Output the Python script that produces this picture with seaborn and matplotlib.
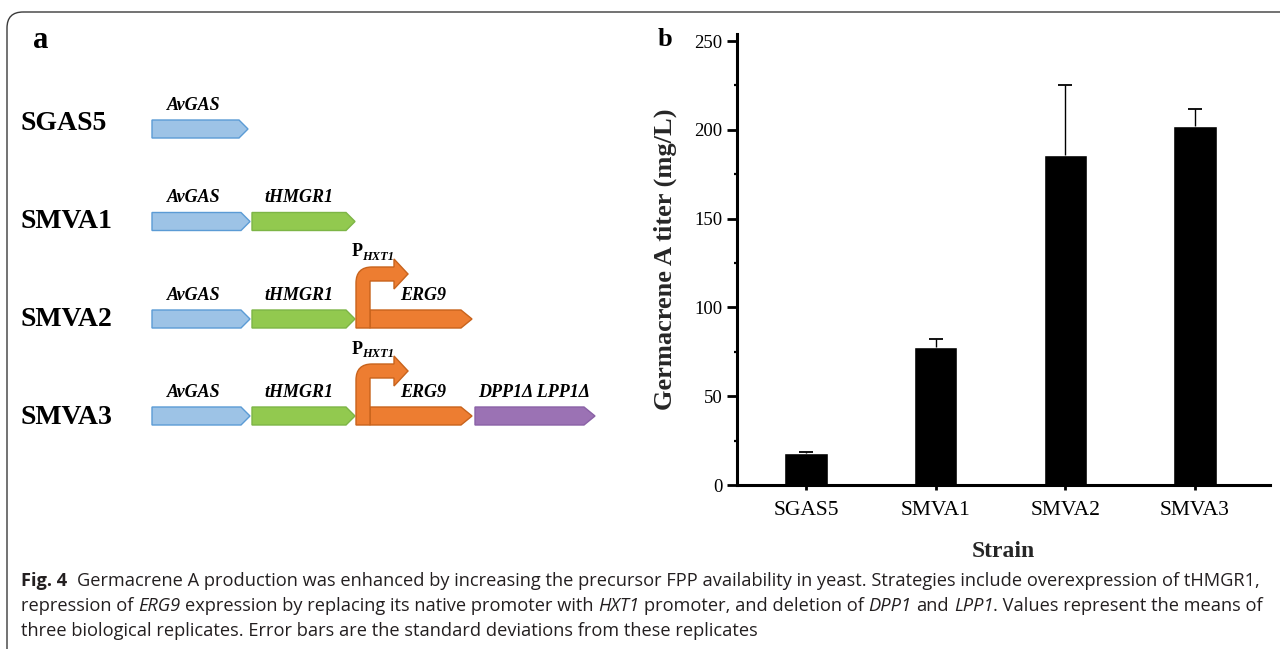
import numpy as np
import pandas as pd
import matplotlib
matplotlib.use("Agg")
import matplotlib.pyplot as plt
import seaborn as sns
from matplotlib.patches import Polygon, FancyBboxPatch, PathPatch
from matplotlib.path import Path
from matplotlib.ticker import MultipleLocator
from matplotlib import font_manager as fm

# ---------------- data ----------------
strains = ["SGAS5", "SMVA1", "SMVA2", "SMVA3"]
titer_mean = [18.0, 78.0, 186.0, 202.0]
titer_sd = [0.5, 4.0, 39.0, 10.0]
y_ticks = [0, 50, 100, 150, 200, 250]
x_label = "Strain"
y_label = "Germacrene A titer (mg/L)"

construct_rows = ["SGAS5", "SMVA1", "SMVA2", "SMVA3"]
construct_genes = [["AvGAS"],
                   ["AvGAS", "tHMGR1"],
                   ["AvGAS", "tHMGR1", "ERG9"],
                   ["AvGAS", "tHMGR1", "ERG9", "DPP1\u0394 LPP1\u0394"]]
promoter_rows = [False, False, True, True]
promoter_main = "P"
promoter_sub = "HXT1"

# caption pieces: (text, kind) kind: b = bold, r = regular, i = italic
caption_line1 = [("Fig. 4", "b"),
                 ("  Germacrene A production was enhanced by increasing the precursor FPP availability in yeast. Strategies include overexpression of tHMGR1,", "r")]
caption_line2 = [("repression of ", "r"), ("ERG9", "i"),
                 (" expression by replacing its native promoter with ", "r"),
                 ("HXT1", "i"), (" promoter, and deletion of ", "r"),
                 ("DPP1", "i"), (" and ", "r"), ("LPP1", "i"),
                 (". Values represent the means of", "r")]
caption_line3 = [("three biological replicates. Error bars are the standard deviations from these replicates", "r")]

# ---------------- style ----------------
sns.set_theme(style="ticks")
plt.rcParams["font.family"] = ["Liberation Serif", "DejaVu Serif"]
plt.rcParams["axes.edgecolor"] = "black"
plt.rcParams["xtick.color"] = "black"
plt.rcParams["ytick.color"] = "black"
plt.rcParams["text.color"] = "black"

names = {f.name for f in fm.fontManager.ttflist}
cap_font = "Liberation Sans Narrow" if "Liberation Sans Narrow" in names else "Open Sans"

W, H = 1280, 649
fig = plt.figure(figsize=(W / 100, H / 100), dpi=100)

# overlay in pixel coordinates for the schematic, frame and caption
ov = fig.add_axes([0, 0, 1, 1], zorder=0)
ov.set_xlim(0, W)
ov.set_ylim(H, 0)
ov.axis("off")

# rounded frame
ov.add_patch(FancyBboxPatch((7, 12), 1500, 900,
                            boxstyle="round,pad=0,rounding_size=16",
                            fc="none", ec="#3a3a3a", lw=1.0, clip_on=False))

# ---------------- panel a ----------------
gene_style = {
    "AvGAS": dict(x=(152, 250), fc="#9DC3E6", ec="#5B9BD5", lx=194),
    "tHMGR1": dict(x=(252, 355), fc="#92C94F", ec="#7DB546", lx=299),
    "ERG9": dict(x=(370, 472), fc="#ED7D31", ec="#C8631C", lx=423),
    "DPP1\u0394 LPP1\u0394": dict(x=(475, 595), fc="#9B72B4", ec="#8A62A6", lx=534),
}
row_y = [129, 221.5, 319, 416]
row_label_y = [124, 222, 320, 418]
gene_h = 18


def gene_arrow(x0, x1, yc, fc, ec, tip=10):
    pts = [(x0, yc - gene_h / 2), (x1 - tip, yc - gene_h / 2), (x1, yc),
           (x1 - tip, yc + gene_h / 2), (x0, yc + gene_h / 2)]
    ov.add_patch(Polygon(pts, closed=True, fc=fc, ec=ec, lw=1.0, zorder=2))


def promoter_arrow(xs, yb, ya):
    sw = 14
    at, ab = ya - 7, ya + 7
    R = 16
    hx, ht, hh = xs + 38, xs + 52, 15
    verts = [(xs, yb), (xs, at + R), (xs, at), (xs + R, at), (hx, at),
             (hx, ya - hh), (ht, ya), (hx, ya + hh), (hx, ab), (xs + sw, ab),
             (xs + sw, yb), (xs, yb)]
    codes = [Path.MOVETO, Path.LINETO, Path.CURVE3, Path.CURVE3, Path.LINETO,
             Path.LINETO, Path.LINETO, Path.LINETO, Path.LINETO, Path.LINETO,
             Path.LINETO, Path.CLOSEPOLY]
    ov.add_patch(PathPatch(Path(verts, codes), fc="#ED7D31", ec="#C8631C",
                           lw=1.0, zorder=3))


ov.text(41, 40, "a", fontsize=22, fontweight="bold", ha="center", va="center")

for name, genes, prom, yc, ly in zip(construct_rows, construct_genes,
                                     promoter_rows, row_y, row_label_y):
    ov.text(21, ly, name, fontsize=20, fontweight="bold", ha="left", va="center")
    for g in genes:
        st = gene_style[g]
        x0, x1 = st["x"]
        if len(genes) == 1:
            x1 = 248
        gene_arrow(x0, x1, yc, st["fc"], st["ec"], tip=9 if x1 < 360 else 11)
        ov.text(st["lx"], yc - 23.5, g, fontsize=13, fontweight="bold",
                fontstyle="italic", ha="center", va="center")
    if prom:
        yb = yc + 9
        promoter_arrow(356, yb, yb - 54)
        ov.text(352, yb - 76, promoter_main, fontsize=13, fontweight="bold",
                ha="left", va="center")
        ov.text(362, yb - 71, promoter_sub, fontsize=9, fontweight="bold",
                fontstyle="italic", ha="left", va="center")

# ---------------- panel b ----------------
ax = fig.add_axes([737 / W, 164 / H, 533 / W, 451 / H], zorder=1)
ax.set_facecolor("none")
df = pd.DataFrame({"Strain": strains, "titer": titer_mean})
sns.barplot(data=df, x="Strain", y="titer", color="black", saturation=1,
            width=0.335, errorbar=None, ax=ax)
eb = ax.errorbar(np.arange(len(strains)), titer_mean,
                 yerr=[np.zeros(len(titer_sd)), titer_sd], fmt="none",
                 ecolor="black", elinewidth=1.0, capsize=5, capthick=1.3,
                 zorder=3)
eb[1][0].set_visible(False)   # hide the cap sitting on the bar top

ax.set_xlim(-0.532, 3.578)
ax.set_ylim(0, 254)
ax.set_yticks(y_ticks)
ax.yaxis.set_minor_locator(MultipleLocator(25))
for s in ["top", "right"]:
    ax.spines[s].set_visible(False)
for s in ["left", "bottom"]:
    ax.spines[s].set_linewidth(2.2)
ax.tick_params(axis="y", which="major", direction="out", length=7,
               width=2, labelsize=13.5, pad=3.5)
ax.tick_params(axis="x", which="major", direction="out", length=3.5,
               width=2, labelsize=15.5, pad=8)
ax.tick_params(axis="y", which="minor", direction="out", length=2.5, width=1.6)
ax.set_xlabel(x_label, fontsize=17, fontweight="bold")
ax.set_ylabel(y_label, fontsize=19, fontweight="bold")
ax.xaxis.set_label_coords(0.5, -0.124)
ax.yaxis.set_label_coords(-0.112, 0.5)

fig.text(665 / W, 1 - 40 / H, "b", fontsize=19, fontweight="bold",
         ha="center", va="center")

# ---------------- caption ----------------
renderer = fig.canvas.get_renderer()
kind_props = {"b": dict(fontweight="bold", fontstyle="normal"),
              "r": dict(fontweight="normal", fontstyle="normal"),
              "i": dict(fontweight="normal", fontstyle="italic")}


def text_w(txt, size, kind):
    t = ov.text(0, 0, txt, fontsize=size, family=cap_font, **kind_props[kind])
    w = t.get_window_extent(renderer).width
    t.remove()
    return w


def piece_w(txt, size, kind):
    core = txt.strip(" ")
    lead = len(txt) - len(txt.lstrip(" "))
    trail = len(txt) - len(txt.rstrip(" "))
    sp = text_w("n n", size, kind) - text_w("nn", size, kind)
    return lead, core, trail, sp, (text_w(core, size, kind) if core else 0.0)


def line_width(pieces, size):
    tot = 0.0
    for txt, kind in pieces:
        lead, core, trail, sp, w = piece_w(txt, size, kind)
        tot += (lead + trail) * sp + w
    return tot


base = 14.0
size = base * 1245 / line_width(caption_line1, base)

cap_y = [586, 611, 636]
for pieces, y in zip([caption_line1, caption_line2, caption_line3], cap_y):
    x = 21.0
    for txt, kind in pieces:
        lead, core, trail, sp, w = piece_w(txt, size, kind)
        x += lead * sp
        if core:
            ov.text(x, y, core, fontsize=size, family=cap_font,
                    color="#231F20", ha="left", va="baseline",
                    **kind_props[kind])
        x += w + trail * sp

fig.savefig("out.png", dpi=100)
